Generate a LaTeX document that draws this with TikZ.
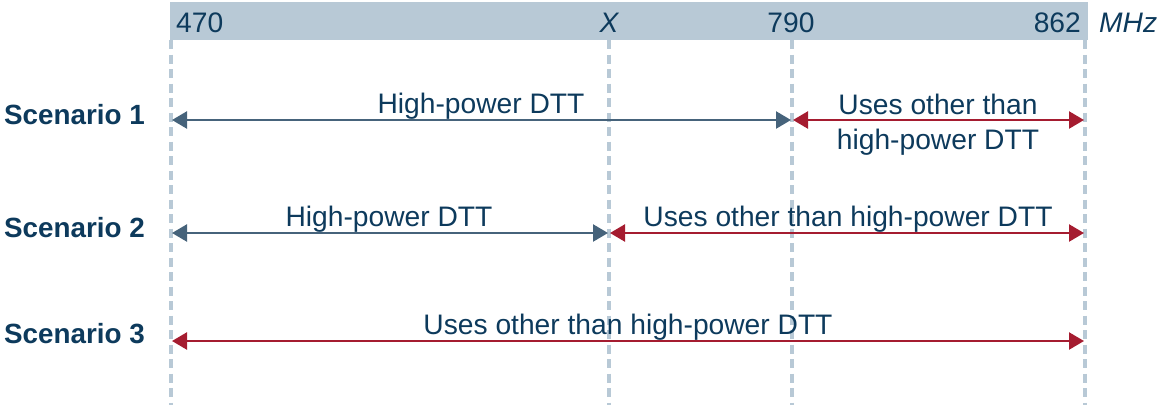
\documentclass[tikz,border=0pt]{standalone}
\usepackage{fontspec}
\setmainfont{Liberation Sans}
\usetikzlibrary{arrows.meta}
\definecolor{bar}{HTML}{B8C9D6}
\definecolor{ink}{HTML}{0D3A5C}
\definecolor{greyarr}{HTML}{46637B}
\definecolor{redarr}{HTML}{A51C30}
\tikzset{
  lbl/.style={font=\fontsize{28.2}{35}\selectfont, text=ink, inner sep=0pt},
  scen/.style={font=\fontsize{27.8}{30}\selectfont\bfseries, text=ink, inner sep=0pt, anchor=west},
  guide/.style={draw=bar, line width=3.5pt, dash pattern=on 9pt off 5.5pt},
  hparr/.style={draw=greyarr, line width=2.4pt, {Triangle[length=15pt,width=17pt]}-{Triangle[length=15pt,width=17pt]}, shorten <=1pt, shorten >=1pt},
  otarr/.style={draw=redarr, line width=2.4pt, {Triangle[length=15pt,width=17pt]}-{Triangle[length=15pt,width=17pt]}, shorten <=1pt, shorten >=1pt},
}
\begin{document}
\begin{tikzpicture}[x=1pt,y=1pt]
\useasboundingbox (0,0) rectangle (1159,-405);
% header bar
\fill[bar] (170,-2) rectangle (1088,-40);
% guides
\coordinate (g1t) at (171,-40); \coordinate (g1b) at (171,-405);
\coordinate (g2t) at (609,-40); \coordinate (g2b) at (609,-405);
\coordinate (g3t) at (792,-40); \coordinate (g3b) at (792,-405);
\coordinate (g4t) at (1085,-40); \coordinate (g4b) at (1085,-405);
\draw[guide] (g1t) -- (g1b);
\draw[guide] (g2t) -- (g2b);
\draw[guide] (g3t) -- (g3b);
\draw[guide] (g4t) -- (g4b);
% header labels
\node[lbl, anchor=base west] (f470) at (176,-32) {470};
\node[lbl, anchor=base] (fx) at (609,-32) {\itshape X};
\node[lbl, anchor=base] (f790) at (791,-32) {790};
\node[lbl, anchor=base east] (f862) at (1081,-32) {862};
\node[lbl, anchor=base west] (fmhz) at (1099,-32) {\itshape MHz};
% scenario labels
\node[scen] (s1) at (4,-115) {Scenario 1};
\node[scen] (s2) at (4,-228) {Scenario 2};
\node[scen] (s3) at (4,-334) {Scenario 3};
% row 1
\coordinate (a1) at (171,-120); \coordinate (b1) at (792,-120); \coordinate (c1) at (1085,-120);
\draw[hparr] (a1) -- (b1);
\draw[otarr] (b1) -- (c1);
\node[lbl, anchor=base] (t1a) at (481,-113) {High-power DTT};
\node[lbl, align=center, anchor=center] (t1b) at (938,-125) {Uses other than\\high-power DTT};
% row 2
\coordinate (a2) at (171,-233); \coordinate (b2) at (609,-233); \coordinate (c2) at (1085,-233);
\draw[hparr] (a2) -- (b2);
\draw[otarr] (b2) -- (c2);
\node[lbl, anchor=base] (t2a) at (389,-226) {High-power DTT};
\node[lbl, anchor=base] (t2b) at (848,-226) {Uses other than high-power DTT};
% row 3
\coordinate (a3) at (171,-341); \coordinate (c3) at (1085,-341);
\draw[otarr] (a3) -- (c3);
\node[lbl, anchor=base] (t3) at (628,-334) {Uses other than high-power DTT};
\end{tikzpicture}
\end{document}
